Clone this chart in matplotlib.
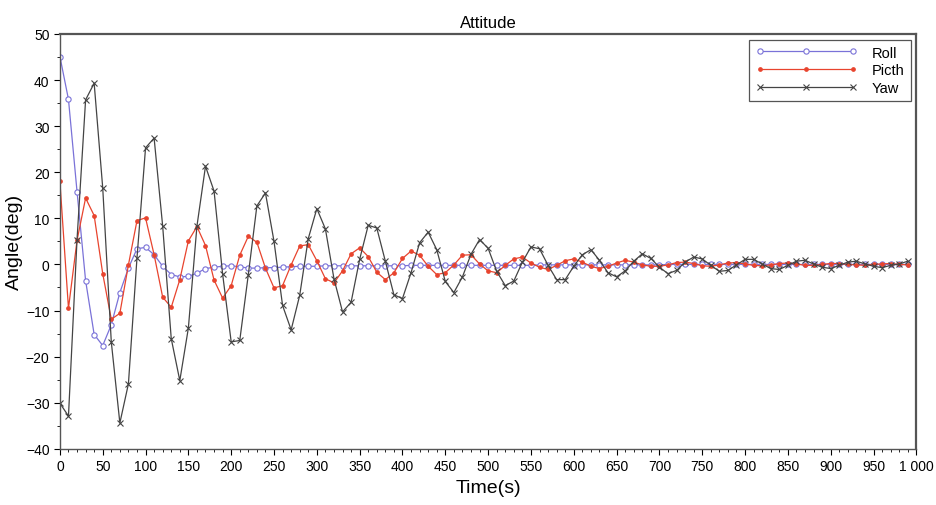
import numpy as np
import matplotlib
matplotlib.use('Agg')
import matplotlib.pyplot as plt
from matplotlib.ticker import MultipleLocator

plt.rcParams['font.family'] = ['Liberation Sans', 'DejaVu Sans']

####################
# Data (sampled every 10 s)
time = np.arange(0, 1000, 10)

roll = [45.1, 35.8, 15.8, -3.5, -15.2, -17.6, -13.1, -6.1, -0.8, 3.4,
        3.7, 2.1, -0.4, -2.2, -2.7, -2.6, -1.9, -0.9, -0.6, -0.4,
        -0.3, -0.5, -0.8, -0.8, -0.7, -0.7, -0.6, -0.5, -0.4, -0.4,
        -0.4, -0.3, -0.3, -0.3, -0.3, -0.3, -0.3, -0.3, -0.3, -0.3,
        -0.3, -0.2, -0.2, -0.2, -0.2, -0.2, -0.2, -0.2, -0.2, -0.2,
        -0.2, -0.2, -0.2, -0.2, -0.2, -0.2, -0.1, -0.1, -0.1, -0.1,
        -0.1, -0.1, -0.1, -0.1, -0.1, -0.1, -0.1, -0.1, -0.1, -0.1,
        -0.1, 0.0, 0.0, 0.0, 0.0, 0.0, 0.0, 0.0, 0.0, 0.0,
        0.0, 0.0, 0.0, 0.0, 0.0, 0.0, 0.0, 0.0, 0.0, 0.0,
        0.0, 0.0, 0.0, 0.0, 0.0, 0.0, 0.0, 0.0, 0.0, 0.0]

pitch = [18.0, -9.5, 5.2, 14.4, 10.6, -2.0, -11.9, -10.6, -0.1, 9.5,
         10.1, 2.1, -7.1, -9.3, -3.3, 5.1, 8.2, 4.1, -3.4, -7.3,
         -4.6, 2.0, 6.1, 4.8, -0.8, -5.1, -4.6, -0.1, 4.0, 4.3,
         0.8, -3.1, -4.0, -1.4, 2.3, 3.6, 1.7, -1.7, -3.3, -1.8,
         1.3, 2.9, 2.0, -0.4, -2.2, -1.8, -0.1, 2.0, 2.1, 0.1,
         -1.4, -1.8, -0.2, 1.2, 1.6, 0.3, -0.6, -1.1, -0.2, 0.8,
         1.2, 0.5, -0.4, -0.9, -0.4, 0.3, 0.9, 0.5, -0.1, -0.4,
         -0.4, -0.1, 0.4, 0.5, 0.2, -0.3, -0.4, -0.1, 0.3, 0.4,
         0.1, -0.2, -0.3, -0.1, 0.2, 0.3, 0.1, -0.2, -0.2, 0.0,
         0.2, 0.2, 0.0, -0.1, -0.2, 0.0, 0.1, 0.2, 0.0, -0.1]

yaw = [-30.1, -32.9, 5.4, 35.7, 39.3, 16.6, -16.8, -34.4, -25.9, 1.4,
       25.3, 27.4, 8.3, -16.1, -25.2, -13.8, 8.3, 21.3, 15.9, -2.1,
       -16.8, -16.5, -2.2, 12.7, 15.5, 5.0, -8.9, -14.2, -6.7, 5.6,
       12.1, 7.7, -3.1, -10.3, -8.2, 1.1, 8.5, 7.9, 0.7, -6.6,
       -7.4, -1.8, 4.7, 7.0, 3.2, -3.7, -6.1, -2.7, 2.2, 5.4,
       3.5, -1.5, -4.6, -3.6, 0.5, 3.8, 3.4, -0.2, -3.3, -3.3,
       -0.4, 2.1, 3.2, 0.9, -1.8, -2.7, -1.4, 0.7, 2.3, 1.3,
       -0.6, -2.0, -1.3, 0.5, 1.6, 1.2, -0.2, -1.5, -1.3, -0.1,
       1.1, 1.1, 0.1, -0.9, -1.1, -0.2, 0.7, 0.9, 0.1, -0.6,
       -0.9, -0.2, 0.5, 0.7, 0.1, -0.4, -0.7, -0.2, 0.1, 0.7]

xticks = np.arange(0, 1001, 50)
xticklabels = [str(v) if v < 1000 else '1 000' for v in xticks]

####################
# Plotting
fig = plt.figure(figsize=(9.36, 5.06), dpi=100)
ax = fig.add_axes([0.064, 0.111, 0.915, 0.820])

ax.plot(time, roll, color='#7a72d8', lw=0.9, marker='o', ms=3.8,
        mfc='white', mec='#7a72d8', mew=0.8, label='Roll')
ax.plot(time, pitch, color='#e8442e', lw=0.9, marker='o', ms=2.4,
        mfc='#e8442e', mec='#e8442e', label='Picth')
ax.plot(time, yaw, color='#444444', lw=0.9, marker='x', ms=4,
        mew=0.8, label='Yaw')

ax.set_xlim(0, 1000)
ax.set_ylim(-40, 50)
ax.set_xticks(xticks)
ax.set_xticklabels(xticklabels)
ax.set_yticks(np.arange(-40, 51, 10))
ax.xaxis.set_minor_locator(MultipleLocator(10))
ax.yaxis.set_minor_locator(MultipleLocator(5))
ax.tick_params(which='major', direction='out', length=4, width=0.8,
               labelsize=10, top=False, right=False)
ax.tick_params(which='minor', direction='out', length=2, width=0.6,
               top=False, right=False)

for s in ax.spines.values():
    s.set_color('#555555')
    s.set_linewidth(1.0)
ax.spines['top'].set_linewidth(1.6)
ax.spines['right'].set_linewidth(1.6)

ax.set_title('Attitude', fontsize=12, pad=5)
ax.set_xlabel('Time(s)', fontsize=14, labelpad=4)
ax.set_ylabel('Angle(deg)', fontsize=14, labelpad=2)

leg = ax.legend(loc='upper right', numpoints=3, fontsize=10.5,
                fancybox=False, framealpha=1, edgecolor='#555555',
                handlelength=7, handletextpad=1.0, borderaxespad=0.4,
                labelspacing=0.25)
leg.get_frame().set_linewidth(0.9)

fig.savefig('out.png', dpi=100)
